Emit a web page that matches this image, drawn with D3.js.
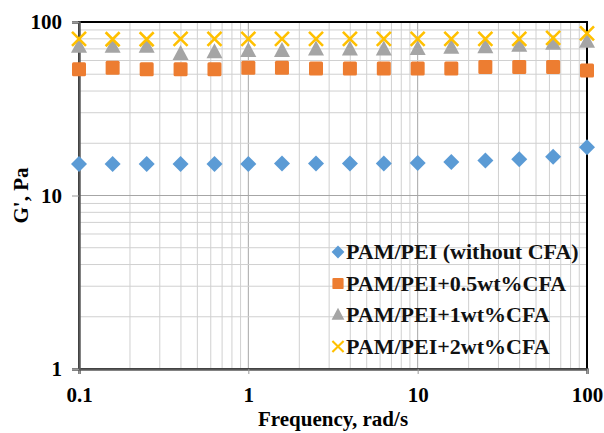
<!DOCTYPE html>
<html>
<head>
<meta charset="utf-8">
<script src="https://cdn.jsdelivr.net/npm/d3@7"></script>
<style>
  body { margin: 0; background: #fff; }
</style>
</head>
<body>
<div id="chart"></div>
<script>
var margin = {top: 22, right: 17, bottom: 64, left: 79},
    width = 604 - margin.left - margin.right,
    height = 433 - margin.top - margin.bottom;

var FONT = "'Liberation Serif', 'DejaVu Serif', serif";

// frequency points, rad/s
var freq = [0.1, 0.158, 0.251, 0.398, 0.631, 1, 1.58, 2.51, 3.98, 6.31, 10, 15.8, 25.1, 39.8, 63.1, 100];

var seriesNames = ["PAM/PEI (without CFA)", "PAM/PEI+0.5wt%CFA", "PAM/PEI+1wt%CFA", "PAM/PEI+2wt%CFA"];
var noCFA   = [15.2, 15.2, 15.2, 15.2, 15.2, 15.2, 15.3, 15.3, 15.3, 15.3, 15.4, 15.6, 15.9, 16.2, 16.7, 19.0];
var cfa05   = [53.5, 54.5, 53.5, 53.5, 53.5, 54.5, 54.5, 54, 54, 54, 54, 54, 55, 55, 55, 52.5];
var cfa1    = [72, 72, 72, 65.5, 67, 68, 68, 69.5, 69.5, 69.5, 70, 71, 71.5, 73, 75, 77];
var cfa2    = [80, 79.5, 79.5, 80, 80, 80, 80, 80, 80, 80, 80, 80, 80, 80, 81, 86];

var xTicks = [0.1, 1, 10, 100];
var yTicks = [1, 10, 100];
var colors = ["#5b9bd5", "#ed7d31", "#a5a5a5", "#ffc000"];
var shapes = ["diamond", "square", "triangle", "cross"];

var svG = d3.select("#chart")
  .append("svg")
    .attr("width", width + margin.left + margin.right)
    .attr("height", height + margin.top + margin.bottom)
  .append("g")
    .attr("transform", "translate(" + margin.left + "," + margin.top + ")");

var x = d3.scaleLog().domain([0.1, 100]).range([0, width]);
var y = d3.scaleLog().domain([1, 100]).range([height, 0]);

// minor + major grid values
function gridVals(lo, hi) {
  var out = [];
  for (var d = lo; d < hi; d *= 10) {
    for (var k = 1; k <= 9; k++) out.push(d * k);
  }
  out.push(hi);
  return out;
}
var xGrid = gridVals(0.1, 100);
var yGrid = gridVals(1, 100);

svG.append("g").selectAll("line")
  .data(xGrid).enter().append("line")
    .attr("x1", function(d){ return x(d) })
    .attr("x2", function(d){ return x(d) })
    .attr("y1", 0).attr("y2", height)
    .attr("stroke", function(d){ return xTicks.indexOf(d) >= 0 ? "#a6a6a6" : "#d0d0d0" })
    .attr("stroke-width", 1);

svG.append("g").selectAll("line")
  .data(yGrid).enter().append("line")
    .attr("x1", 0).attr("x2", width)
    .attr("y1", function(d){ return y(d) })
    .attr("y2", function(d){ return y(d) })
    .attr("stroke", function(d){ return yTicks.indexOf(d) >= 0 ? "#a6a6a6" : "#d0d0d0" })
    .attr("stroke-width", 1);

// frame (top/right black)
svG.append("rect")
  .attr("x", 0).attr("y", 0).attr("width", width).attr("height", height)
  .attr("fill", "none").attr("stroke", "#000").attr("stroke-width", 2);

// axes
var xAxis = svG.append("g")
  .attr("transform", "translate(0," + height + ")")
  .call(d3.axisBottom(x).tickValues(xTicks).tickFormat(d3.format("")).tickSize(5).tickPadding(13));
var yAxis = svG.append("g")
  .call(d3.axisLeft(y).tickValues(yTicks).tickFormat(d3.format("")).tickSize(7).tickPadding(10));

[xAxis, yAxis].forEach(function(a){
  a.attr("font-family", FONT).attr("font-weight", "bold").attr("font-size", 21);
  a.select(".domain").attr("stroke", "#595959").attr("stroke-width", 2.5);
  a.selectAll(".tick line").attr("stroke", "#999");
  a.selectAll(".tick text").attr("fill", "#000");
});

// markers
function drawMarker(sel, shape, color) {
  if (shape === "diamond") {
    sel.append("path").attr("d", "M0,-8L8,0L0,8L-8,0Z").attr("fill", color);
  } else if (shape === "square") {
    sel.append("rect").attr("x", -7).attr("y", -7).attr("width", 14).attr("height", 14)
      .attr("rx", 1.5).attr("fill", color);
  } else if (shape === "triangle") {
    sel.append("path").attr("d", "M0,-9L8,6L-8,6Z").attr("fill", color);
  } else {
    sel.append("path").attr("d", "M-7,-7L7,7M7,-7L-7,7")
      .attr("stroke", color).attr("stroke-width", 2.6).attr("fill", "none");
  }
}

var allSeries = [noCFA, cfa05, cfa1, cfa2];
allSeries.forEach(function(vals, i) {
  svG.append("g").selectAll("g")
    .data(vals).enter().append("g")
      .attr("transform", function(d, j){ return "translate(" + x(freq[j]) + "," + y(d) + ")" })
      .each(function(){ drawMarker(d3.select(this), shapes[i], colors[i]) });
});

// legend
var legend = svG.append("g")
  .attr("transform", "translate(" + (338 - margin.left) + "," + (252 - margin.top) + ")")
  .attr("font-family", FONT).attr("font-weight", "bold");
seriesNames.forEach(function(name, i) {
  var row = legend.append("g").attr("transform", "translate(0," + (i * 31.5) + ")");
  var m = row.append("g").attr("transform", "scale(0.8)");
  drawMarker(m, shapes[i], colors[i]);
  row.append("text").attr("x", 8).attr("y", 7).attr("font-size", 22).attr("fill", "#111").text(name);
});

// axis titles
svG.append("text")
  .attr("x", width / 2).attr("y", height + 57)
  .attr("text-anchor", "middle").attr("font-size", 21)
  .attr("font-family", FONT).attr("font-weight", "bold")
  .text("Frequency, rad/s");

svG.append("text")
  .attr("transform", "translate(" + (-51) + "," + (height / 2) + ") rotate(-90)")
  .attr("text-anchor", "middle").attr("font-size", 21)
  .attr("font-family", FONT).attr("font-weight", "bold")
  .text("G', Pa");
</script>
</body>
</html>
